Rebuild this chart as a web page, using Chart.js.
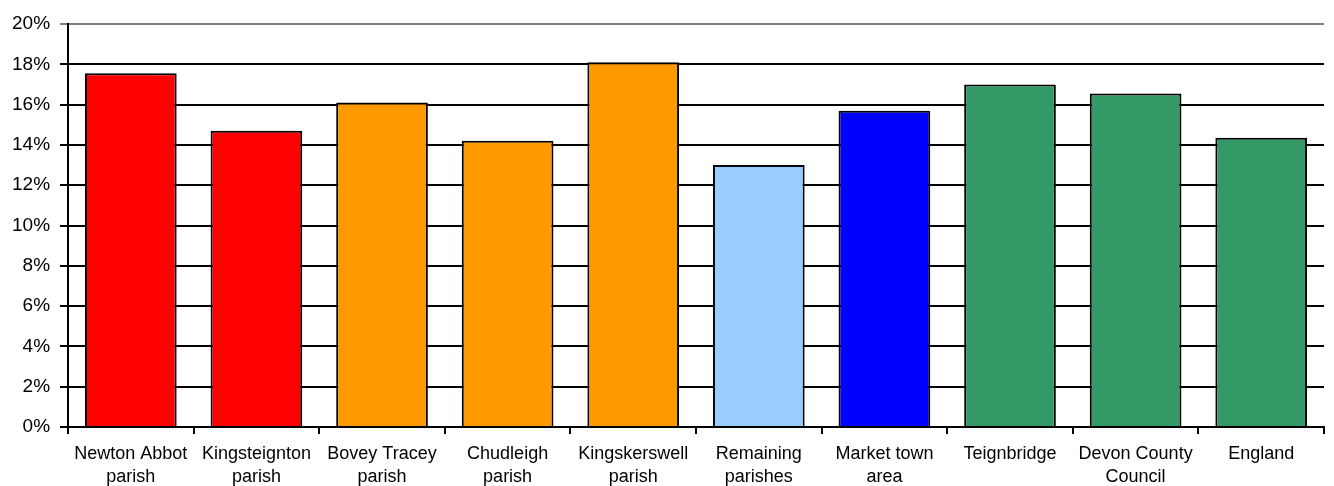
<!DOCTYPE html>
<html>
<head>
<meta charset="utf-8">
<script src="https://cdn.jsdelivr.net/npm/chart.js@4"></script>
<style>
  html, body { margin: 0; padding: 0; background: #fff; }
  #wrap { width: 1334px; height: 486px; }
</style>
</head>
<body>
<div id="wrap"><canvas id="chart" width="1334" height="486"></canvas></div>
<script>
// Categories (two-line labels as in the original)
const categories = [
    ['Newton Abbot', 'parish'],
    ['Kingsteignton', 'parish'],
    ['Bovey Tracey', 'parish'],
    ['Chudleigh', 'parish'],
    ['Kingskerswell', 'parish'],
    ['Remaining', 'parishes'],
    ['Market town', 'area'],
    ['Teignbridge'],
    ['Devon County', 'Council'],
    ['England']
];
// Share in percent
const shareValues = [17.55, 14.7, 16.1, 14.2, 18.1, 13.0, 15.7, 17.0, 16.55, 14.35];
const barColours = ['#FF0000', '#FF0000', '#FF9900', '#FF9900', '#FF9900',
                    '#99CCFF', '#0000FF', '#339966', '#339966', '#339966'];

document.addEventListener("DOMContentLoaded", function () {
    const ctx = document.getElementById('chart').getContext('2d');
    new Chart(ctx, {
        type: 'bar',
        data: {
            labels: categories,
            datasets: [{
                data: shareValues,
                backgroundColor: barColours,
                borderColor: '#000000',
                borderWidth: 2,
                categoryPercentage: 0.73,
                barPercentage: 1.0
            }]
        },
        options: {
            responsive: false,
            animation: false,
            layout: { padding: { top: 24, right: 10, left: 2, bottom: -11 } },
            plugins: {
                legend: { display: false },
                tooltip: { enabled: false }
            },
            scales: {
                x: {
                    grid: {
                        offset: true,
                        drawOnChartArea: false,
                        color: '#000000',
                        lineWidth: 2,
                        tickLength: 7
                    },
                    border: { color: '#000000', width: 2 },
                    ticks: {
                        color: '#000000',
                        maxRotation: 0,
                        autoSkip: false,
                        padding: 9,
                        font: { family: 'Liberation Sans', size: 18, lineHeight: 1.25 }
                    }
                },
                y: {
                    min: 0,
                    max: 20,
                    ticks: {
                        stepSize: 2,
                        color: '#000000',
                        padding: 10,
                        font: { family: 'Liberation Sans', size: 19 },
                        callback: function (v) { return v + '%'; }
                    },
                    grid: {
                        color: function (c) { return c.tick && c.tick.value === 20 ? '#808080' : '#000000'; },
                        lineWidth: 2,
                        tickLength: 8
                    },
                    border: { color: '#000000', width: 2 }
                }
            }
        }
    });
});
</script>
</body>
</html>
